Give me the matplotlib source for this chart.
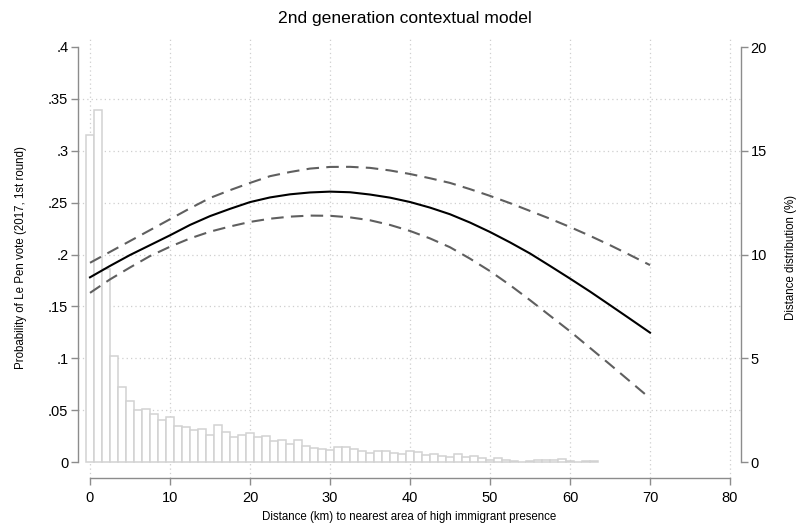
import matplotlib
matplotlib.use("Agg")
import matplotlib.pyplot as plt

plt.rcParams['font.family'] = ['Liberation Sans', 'DejaVu Sans']

# Predicted probability curve and 95% CI (read at 2.5 km steps)
dist = [0, 2.5, 5, 7.5, 10, 12.5, 15, 17.5, 20, 22.5, 25, 27.5, 30, 32.5, 35,
        37.5, 40, 42.5, 45, 47.5, 50, 52.5, 55, 57.5, 60, 62.5, 65, 67.5, 70]
pred = [0.178, 0.189, 0.1995, 0.209, 0.2185, 0.2285, 0.237, 0.244, 0.2505, 0.255,
        0.258, 0.2598, 0.2606, 0.2600, 0.2578, 0.2548, 0.2506, 0.2452, 0.2388, 0.2308,
        0.2217, 0.2117, 0.201, 0.189, 0.1768, 0.1643, 0.1512, 0.138, 0.1247]
upper = [0.192, 0.2025, 0.213, 0.2235, 0.234, 0.2445, 0.2545, 0.262, 0.269, 0.2755,
         0.2795, 0.2828, 0.2844, 0.2845, 0.2835, 0.281, 0.2776, 0.2735, 0.269, 0.263,
         0.2565, 0.2495, 0.242, 0.2345, 0.2265, 0.218, 0.209, 0.1995, 0.1898]
lower = [0.163, 0.176, 0.1875, 0.1985, 0.2075, 0.2155, 0.222, 0.227, 0.2314, 0.2345,
         0.2365, 0.2375, 0.2373, 0.2358, 0.233, 0.2285, 0.2227, 0.2155, 0.207, 0.196,
         0.184, 0.1705, 0.156, 0.141, 0.126, 0.110, 0.094, 0.0777, 0.0614]

# Distance distribution histogram (percent per 1 km bin)
bins = list(range(0, 64))
pct = [15.76, 16.96, 9.29, 5.12, 3.60, 2.94, 2.49, 2.54, 2.30, 2.01,
       2.17, 1.72, 1.67, 1.54, 1.57, 1.32, 1.77, 1.43, 1.22, 1.30,
       1.38, 1.22, 1.24, 1.01, 1.06, 0.85, 1.04, 0.75, 0.69, 0.64,
       0.56, 0.71, 0.71, 0.64, 0.51, 0.43, 0.51, 0.51, 0.43, 0.40,
       0.55, 0.47, 0.34, 0.37, 0.27, 0.22, 0.37, 0.23, 0.27, 0.19,
       0.08, 0.18, 0.08, 0.03, 0.01, 0.03, 0.08, 0.08, 0.12, 0.14,
       0.05, 0.0, 0.07, 0.07]

xticks = [0, 10, 20, 30, 40, 50, 60, 70, 80]
yticks = [0, 0.05, 0.1, 0.15, 0.2, 0.25, 0.3, 0.35, 0.4]
yticklabels = ['0', '.05', '.1', '.15', '.2', '.25', '.3', '.35', '.4']
y2ticks = [0, 5, 10, 15, 20]

W, H = 799, 524
fig = plt.figure(figsize=(W / 100, H / 100), dpi=100)
L, R, B, T = 78, 741, 478, 37
ax = fig.add_axes([L / W, 1 - B / H, (R - L) / W, (B - T) / H])
ax2 = ax.twinx()

xlim = (-1.5, 81.375)
ylim = (-16 / 1037.5, 0.4 + 10 / 1037.5)
ax.set_xlim(*xlim)
ax.set_ylim(*ylim)
ax2.set_ylim(ylim[0] * 50, ylim[1] * 50)

axis_col = '#8c8c8c'
grid_col = '#cfcfcf'

# grid (on the bottom axes so bars cover it)
for xv in xticks:
    ax2.axvline(xv, color=grid_col, lw=0.9, ls=(0, (1, 2.5)), zorder=0)
for yv in yticks[1:-1]:
    ax2.axhline(yv * 50, color=grid_col, lw=0.9, ls=(0, (1, 2.5)), zorder=0)

# histogram
ax2.bar(bins, pct, width=0.88, color='white', edgecolor='#d2d2d2', linewidth=1.1, zorder=2)

# curves
ax.plot(dist, pred, color='black', lw=1.5, zorder=3)
ax.plot(dist, upper, color='#5f5f5f', lw=1.5, ls=(0, (6, 3.5)), zorder=3)
ax.plot(dist, lower, color='#5f5f5f', lw=1.5, ls=(0, (6, 3.5)), zorder=3)

ax.set_zorder(ax2.get_zorder() + 1)
ax.patch.set_visible(False)

for a in (ax, ax2):
    for s in a.spines.values():
        s.set_color(axis_col)
        s.set_linewidth(1.0)
    a.spines['top'].set_visible(False)

ax.spines['right'].set_visible(False)
ax2.spines['left'].set_visible(False)
ax2.spines['bottom'].set_visible(False)
ax.spines['left'].set_bounds(0, 0.4)
ax.spines['bottom'].set_bounds(0, 80)
ax2.spines['right'].set_bounds(0, 20)

ax.set_xticks(xticks)
ax.set_xticklabels([str(v) for v in xticks])
ax.set_yticks(yticks)
ax.set_yticklabels(yticklabels)
ax2.set_yticks(y2ticks)
ax2.set_yticklabels([str(v) for v in y2ticks])

ax.tick_params(axis='both', colors=axis_col, labelcolor='black', labelsize=10.5, length=5, width=1.0, pad=2)
ax2.tick_params(axis='y', colors=axis_col, labelcolor='black', labelsize=10.5, length=5, width=1.0, pad=2)
ax.tick_params(axis='x', pad=4)

ax.set_xlabel('Distance (km) to nearest area of high immigrant presence', fontsize=8.3, labelpad=4.5)
ax.set_ylabel('Probability of Le Pen vote (2017, 1st round)', fontsize=8.3, labelpad=15)
ax2.set_ylabel('Distance distribution (%)', fontsize=8.3, labelpad=13)

fig.text(405 / W, 1 - 18 / H, '2nd generation contextual model', ha='center', va='center', fontsize=12.6)

fig.savefig('out.png', dpi=100, facecolor='white')
